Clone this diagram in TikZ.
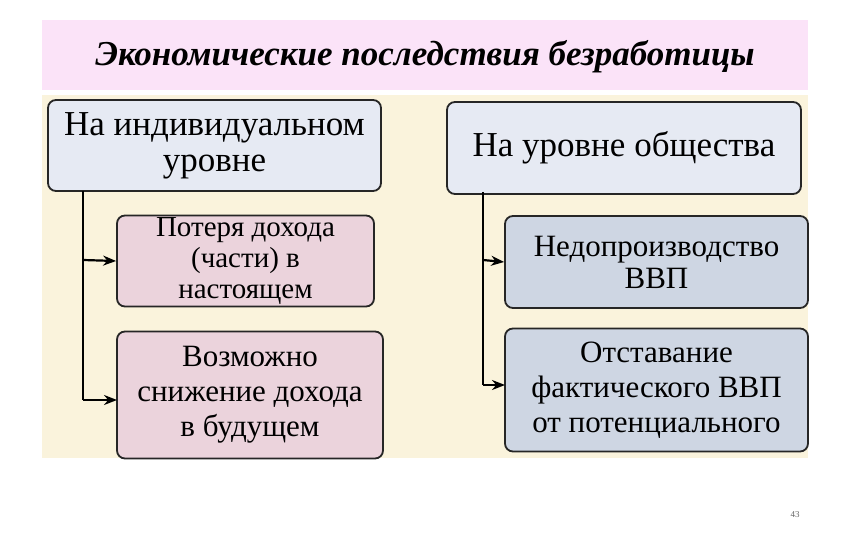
\documentclass[tikz,border=0pt]{standalone}
\usepackage{fontspec}
\setmainfont{Liberation Serif}
\usetikzlibrary{arrows.meta}
\definecolor{titlebg}{HTML}{FBE3F8}
\definecolor{cream}{HTML}{FAF3DC}
\definecolor{topbox}{HTML}{E6EAF3}
\definecolor{pinkbox}{HTML}{EBD3DC}
\definecolor{bluebox}{HTML}{CED6E3}
\tikzset{
  box/.style={draw=black!85, line width=1.8pt, rounded corners=8pt, align=center, inner sep=0pt},
  conn/.style={line width=2.2pt, -{Stealth[length=13pt,width=10pt]}},
}
\begin{document}
\begin{tikzpicture}[x=1pt,y=-1pt]
\useasboundingbox (0,0) rectangle (851,540);
\fill[white] (0,0) rectangle (851,540);
\fill[titlebg] (42,20) rectangle (808,90);
\fill[cream] (42,95) rectangle (808,458);
\node (title) at (425,57) {\fontsize{35}{40}\selectfont\bfseries\itshape Экономические последствия безработицы};
\node[box, fill=topbox, minimum width=333pt, minimum height=91pt, font=\fontsize{35}{36}\selectfont] (ind) at (214.5,145.5) {На индивидуальном\\уровне};
\node[box, fill=topbox, minimum width=354pt, minimum height=92pt, font=\fontsize{35}{36}\selectfont] (soc) at (624,148) {На уровне общества};
\node[box, fill=pinkbox, minimum width=257pt, minimum height=91pt, font=\fontsize{29}{31}\selectfont] (l1) at (245.5,261) {Потеря дохода\\(части) в\\настоящем};
\node[box, fill=pinkbox, minimum width=266pt, minimum height=127pt, font=\fontsize{31}{35}\selectfont] (l2) at (250,395) {Возможно\\снижение дохода\\в будущем};
\node[box, fill=bluebox, minimum width=303pt, minimum height=92pt, font=\fontsize{31}{32}\selectfont] (r1) at (656.5,262) {Недопроизводство\\ВВП};
\node[box, fill=bluebox, minimum width=303pt, minimum height=123pt, font=\fontsize{31}{35}\selectfont] (r2) at (656.5,390) {Отставание\\фактического ВВП\\от потенциального};
\coordinate (lt) at (83,191);
\coordinate (rt) at (483,192);
\draw[line width=2.2pt] (lt) -- (83,400);
\draw[conn] (83,260) -- (l1.west);
\draw[conn] (83,400) -- (117,400);
\draw[line width=2.2pt] (rt) -- (483,385);
\draw[conn] (483,260) -- (r1.west);
\draw[conn] (483,385) -- (505,385);
\node[font=\fontsize{9}{9}\selectfont, text=black!60] (pg) at (795,515) {43};
\end{tikzpicture}
\end{document}
